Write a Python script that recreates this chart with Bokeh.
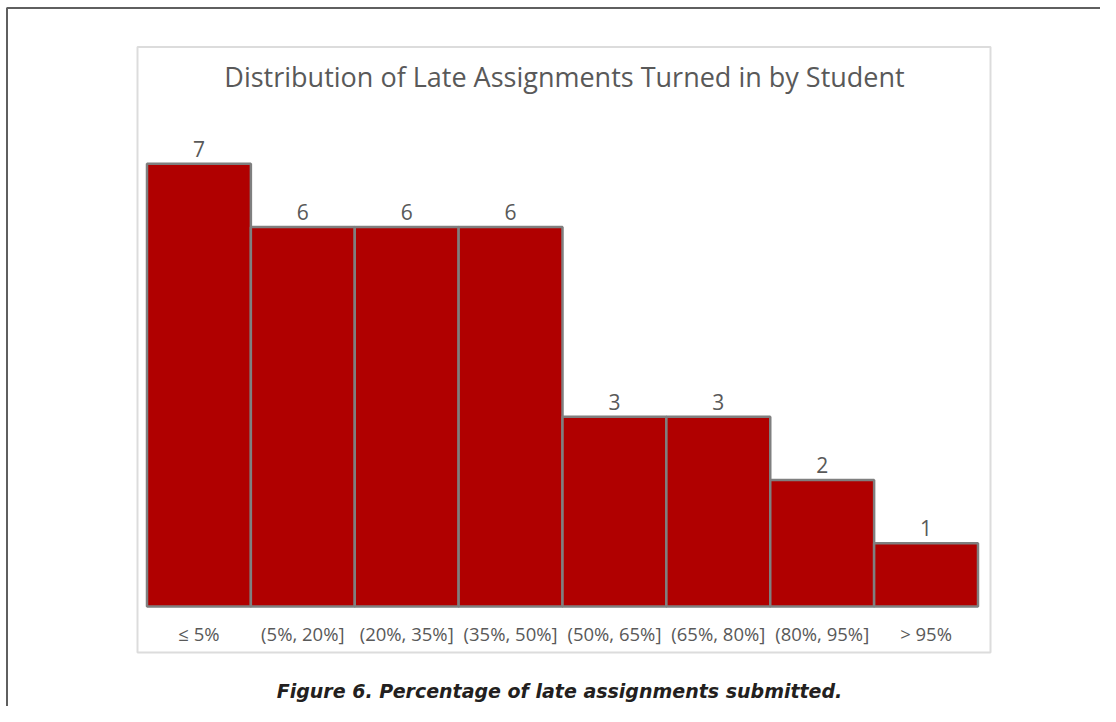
from bokeh.plotting import figure
from bokeh.models import Range1d, ColumnDataSource
from bokeh.core.properties import value
from bokeh.embed import file_html
from bokeh.resources import INLINE

# ---- data ----
categories = ["≤ 5%", "(5%, 20%]", "(20%, 35%]", "(35%, 50%]",
              "(50%, 65%]", "(65%, 80%]", "(80%, 95%]", "> 95%"]
counts = [7, 6, 6, 6, 3, 3, 2, 1]
title_text = "Distribution of Late Assignments Turned in by Student"
caption_text = "Figure 6. Percentage of late assignments submitted."

# ---- layout (pixels inside the canvas) ----
W, H = 1100, 706
bar_left_px, bar_right_px = 146.5, 977.5
base_px = 606.0
unit_px = 63.24
bw = (bar_right_px - bar_left_px) / len(categories)

x_range = Range1d(-bar_left_px / bw, (W - bar_left_px) / bw)
y_range = Range1d(-(H - base_px) / unit_px, base_px / unit_px)

p = figure(width=W, height=H, x_range=x_range, y_range=y_range,
           output_backend="svg", toolbar_location=None, min_border=0,
           x_axis_type=None, y_axis_type=None, outline_line_color=None,
           background_fill_color="white", border_fill_color="white")
p.extra_x_ranges = {"px": Range1d(0, W)}
p.extra_y_ranges = {"px": Range1d(H, 0)}

src = ColumnDataSource(dict(
    x=[i + 0.5 for i in range(len(categories))],
    count=counts,
    label=[str(c) for c in counts],
    cat=categories,
))

# outer frame (top and left rules)
p.line(x=[6.5, 6.5, W], y=[H, 7.5, 7.5], x_range_name="px", y_range_name="px",
       line_color="#5f5f5f", line_width=2)
# chart area box
p.quad(left=[137], right=[990], top=[46.5], bottom=[652],
       x_range_name="px", y_range_name="px",
       fill_color="white", line_color="#dcdcdc", line_width=2)

# bars
p.vbar(x="x", top="count", bottom=0, width=1.0, source=src,
       fill_color="#b00000", line_color="#7f7f7f", line_width=2.5)

# data labels
p.text(x="x", y="count", text="label", source=src,
       text_align="center", text_baseline="bottom", y_offset=-7,
       text_font=value("Open Sans"), text_font_size="21px",
       text_color="#595959")

# category labels
p.text(x="x", y=633, text="cat", source=src, y_range_name="px",
       text_align="center", text_baseline="middle",
       text_font=value("Open Sans"), text_font_size="18.5px",
       text_color="#595959")

# chart title
p.text(x=[564], y=[76], text=[title_text], x_range_name="px", y_range_name="px",
       text_align="center", text_baseline="middle",
       text_font=value("Open Sans"), text_font_size="27px",
       text_color="#595959")

# caption
p.text(x=[559], y=[690], text=[caption_text], x_range_name="px", y_range_name="px",
       text_align="center", text_baseline="middle",
       text_font=value("DejaVu Sans"), text_font_size="19px",
       text_font_style="bold italic", text_color="#231f20")

open("out.html", "w").write(file_html(p, INLINE))
